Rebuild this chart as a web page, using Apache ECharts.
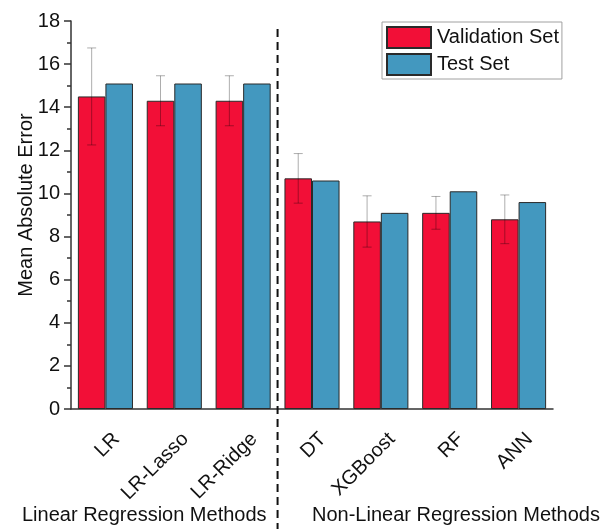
<!DOCTYPE html>
<html>
<head>
<meta charset="utf-8">
<script src="https://cdn.jsdelivr.net/npm/echarts@6/dist/echarts.min.js"></script>
<style>
  html, body { margin: 0; padding: 0; background: #fff; }
  #chart { width: 602px; height: 529px; }
</style>
</head>
<body>
<div id="chart"></div>
<script>
// Mean absolute error of each regression model
const categories = ['LR', 'LR-Lasso', 'LR-Ridge', 'DT', 'XGBoost', 'RF', 'ANN'];
const validationMAE = [14.5, 14.3, 14.3, 10.7, 8.7, 9.1, 8.8];
const validationErr = [2.25, 1.16, 1.16, 1.15, 1.19, 0.76, 1.13];
const testMAE = [15.1, 15.1, 15.1, 10.6, 9.1, 10.1, 9.6];
const groupLabels = ['Linear Regression Methods', 'Non-Linear Regression Methods'];
const linearCount = 3;

const FONT = 'Arial, "Liberation Sans", sans-serif';
const RED = '#f20f37';
const BLUE = '#4398bf';
const EDGE = '#2a2a2a';

const chart = echarts.init(document.getElementById('chart'), null, { renderer: 'canvas' });

const errData = validationMAE.map((v, i) => [i, v - validationErr[i], v + validationErr[i]]);

const option = {
  animation: false,
  backgroundColor: '#fff',
  textStyle: { fontFamily: FONT },
  grid: { left: 71, right: 49, top: 21, bottom: 120 },
  legend: {
    orient: 'vertical',
    left: 382, top: 22,
    padding: [4, 3, 3, 4],
    itemGap: 4,
    itemWidth: 44, itemHeight: 21,
    icon: 'rect',
    borderColor: '#a0a0a0', borderWidth: 1,
    textStyle: { fontFamily: FONT, fontSize: 20, color: '#111', padding: [0, 0, 0, 1] },
    data: ['Validation Set', 'Test Set']
  },
  xAxis: [{
    type: 'category',
    data: categories,
    axisLine: { lineStyle: { color: '#333', width: 1.5 } },
    axisTick: { alignWithLabel: true, length: 7, lineStyle: { color: '#333', width: 1.5 } },
    axisLabel: { show: false }
  }, {
    type: 'category',
    data: categories,
    position: 'bottom',
    axisLine: { show: false },
    axisTick: { length: 4, lineStyle: { color: '#333', width: 1.5 } },
    axisLabel: { show: false }
  }],
  yAxis: {
    type: 'value',
    min: 0, max: 18, interval: 2,
    name: 'Mean Absolute Error',
    nameLocation: 'middle',
    nameGap: 35,
    nameMoveOverlap: false,
    nameTextStyle: { fontSize: 20, color: '#111', fontFamily: FONT, padding: [0, 0, 0, 20] },
    axisLine: { show: true, lineStyle: { color: '#333', width: 1.5 } },
    axisTick: { show: true, length: 7, lineStyle: { color: '#333', width: 1.5 } },
    minorTick: { show: true, splitNumber: 2, length: 4, lineStyle: { color: '#333', width: 1.5 } },
    splitLine: { show: false },
    axisLabel: { fontSize: 20, color: '#111', fontFamily: FONT, margin: 11 }
  },
  series: [{
    name: 'Validation Set',
    type: 'bar',
    data: validationMAE,
    barGap: '0%',
    barCategoryGap: '20%',
    itemStyle: { color: RED, borderColor: EDGE, borderWidth: 1 }
  }, {
    name: 'Test Set',
    type: 'bar',
    data: testMAE,
    itemStyle: { color: BLUE, borderColor: EDGE, borderWidth: 1 }
  }, {
    name: 'err',
    type: 'custom',
    data: errData,
    z: 5,
    renderItem: function (params, api) {
      const band = api.size([1, 0])[0];
      const off = -band * 0.2;
      const lo = api.coord([api.value(0), api.value(1)]);
      const hi = api.coord([api.value(0), api.value(2)]);
      const x = lo[0] + off;
      const cap = 4.5;
      const style = { stroke: 'rgba(0,0,0,0.32)', lineWidth: 1, fill: null };
      return {
        type: 'group',
        children: [
          { type: 'line', shape: { x1: x, y1: lo[1], x2: x, y2: hi[1] }, style: style },
          { type: 'line', shape: { x1: x - cap, y1: lo[1], x2: x + cap, y2: lo[1] }, style: style },
          { type: 'line', shape: { x1: x - cap, y1: hi[1], x2: x + cap, y2: hi[1] }, style: style }
        ]
      };
    }
  }]
};

chart.setOption(option);

// Slanted category labels, divider between the two groups, and group captions
const baseY = chart.convertToPixel({ yAxisIndex: 0 }, 0);
const catLabels = categories.map(function (c) {
  const cx = chart.convertToPixel({ xAxisIndex: 0 }, c);
  return {
    type: 'text',
    x: cx + 4, y: baseY + 20,
    rotation: Math.PI / 4,
    style: { text: c, font: '20px ' + FONT, fill: '#111', align: 'right', verticalAlign: 'top' }
  };
});
const xA = chart.convertToPixel({ xAxisIndex: 0 }, categories[linearCount - 1]);
const xB = chart.convertToPixel({ xAxisIndex: 0 }, categories[linearCount]);
const divX = (xA + xB) / 2;
chart.setOption({
  graphic: catLabels.concat([{
    type: 'line',
    shape: { x1: divX, y1: 29, x2: divX, y2: 529 },
    style: { stroke: '#111', lineWidth: 2, lineDash: [8, 5] },
    z: 10
  }, {
    type: 'text',
    left: 22, top: 505,
    style: { text: groupLabels[0], font: '20px ' + FONT, fill: '#111' }
  }, {
    type: 'text',
    left: 312, top: 505,
    style: { text: groupLabels[1], font: '20px ' + FONT, fill: '#111' }
  }])
});
</script>
</body>
</html>
